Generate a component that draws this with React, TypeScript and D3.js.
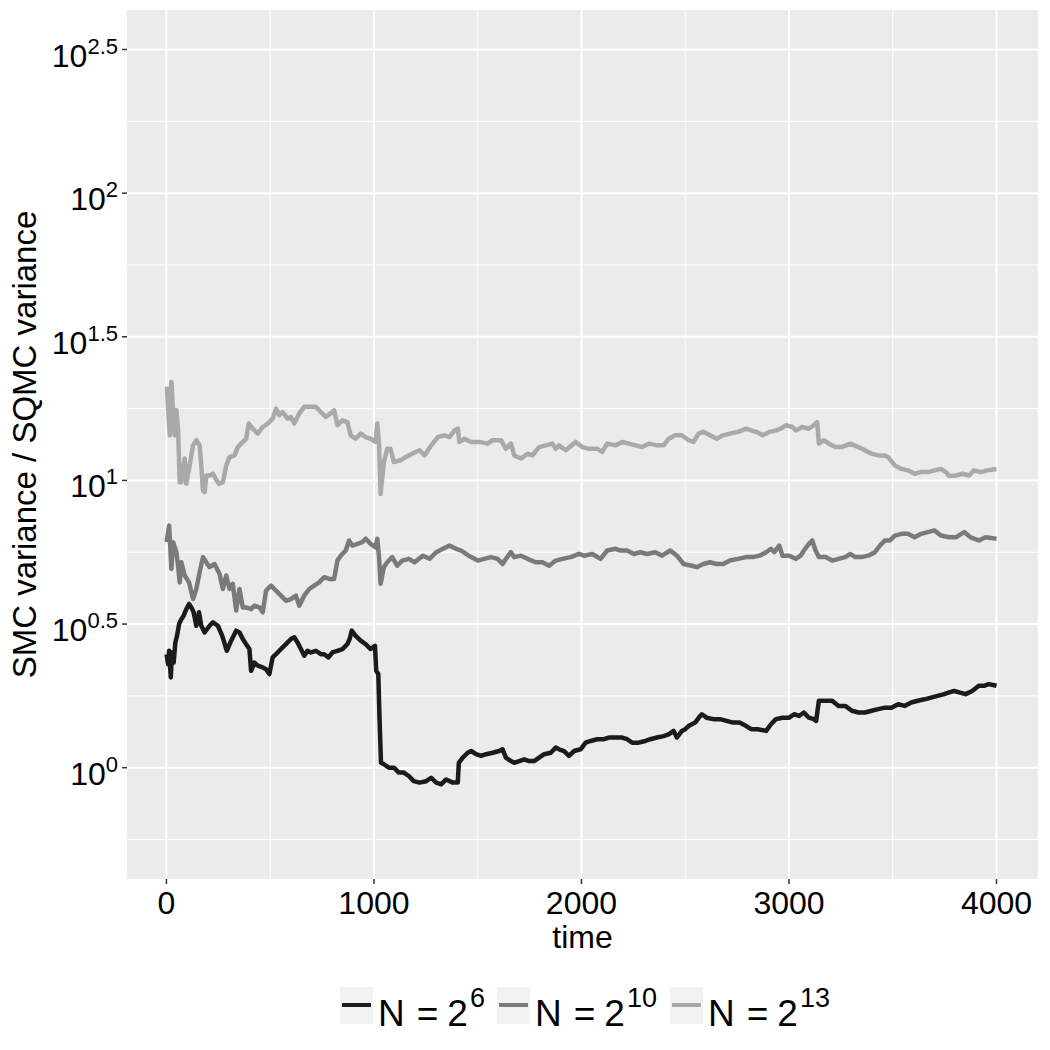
import React from 'react';
import * as d3 from 'd3';

// time steps and log10(SMC var / SQMC var)
const timeN6 = [1, 8, 13, 21, 27, 35, 43, 51, 61, 72, 83, 96, 109, 120, 131, 144, 157, 168, 184, 208, 224, 248, 269, 291, 312, 336, 352, 368, 384, 400, 408, 424, 440, 464, 480, 496, 512, 528, 544, 560, 576, 600, 616, 632, 648, 664, 680, 696, 720, 744, 760, 781, 800, 824, 848, 872, 883, 893, 912, 936, 960, 984, 1005, 1011, 1021, 1027, 1034, 1048, 1072, 1096, 1120, 1144, 1168, 1192, 1220, 1252, 1276, 1300, 1324, 1348, 1380, 1404, 1409, 1428, 1452, 1468, 1492, 1516, 1540, 1572, 1604, 1620, 1636, 1660, 1676, 1700, 1724, 1748, 1772, 1796, 1820, 1852, 1876, 1892, 1916, 1940, 1964, 1996, 2020, 2044, 2076, 2108, 2132, 2164, 2196, 2220, 2244, 2276, 2308, 2332, 2364, 2396, 2420, 2444, 2460, 2484, 2500, 2516, 2548, 2572, 2580, 2603, 2635, 2667, 2699, 2731, 2762, 2794, 2818, 2850, 2890, 2913, 2937, 2969, 3001, 3025, 3049, 3072, 3096, 3120, 3131, 3144, 3176, 3208, 3239, 3271, 3303, 3335, 3366, 3398, 3430, 3462, 3494, 3526, 3557, 3589, 3621, 3653, 3685, 3716, 3748, 3772, 3796, 3820, 3851, 3883, 3915, 3939, 3963, 4000];
const log10RatioN6 = [0.395, 0.36, 0.407, 0.314, 0.401, 0.366, 0.436, 0.459, 0.5, 0.517, 0.529, 0.552, 0.57, 0.558, 0.541, 0.494, 0.541, 0.494, 0.471, 0.494, 0.506, 0.494, 0.459, 0.407, 0.442, 0.477, 0.471, 0.448, 0.43, 0.413, 0.337, 0.366, 0.355, 0.349, 0.343, 0.326, 0.384, 0.395, 0.407, 0.419, 0.43, 0.448, 0.454, 0.436, 0.413, 0.39, 0.407, 0.401, 0.407, 0.395, 0.395, 0.384, 0.401, 0.407, 0.413, 0.43, 0.448, 0.477, 0.459, 0.442, 0.43, 0.413, 0.424, 0.337, 0.326, 0.169, 0.017, 0.012, 0.0, 0.0, -0.017, -0.017, -0.029, -0.047, -0.052, -0.047, -0.035, -0.052, -0.058, -0.041, -0.052, -0.052, 0.017, 0.035, 0.052, 0.058, 0.047, 0.041, 0.047, 0.052, 0.058, 0.064, 0.035, 0.023, 0.017, 0.023, 0.029, 0.023, 0.023, 0.035, 0.047, 0.052, 0.07, 0.064, 0.058, 0.041, 0.058, 0.064, 0.087, 0.093, 0.099, 0.099, 0.105, 0.105, 0.105, 0.099, 0.087, 0.087, 0.093, 0.099, 0.105, 0.11, 0.116, 0.128, 0.105, 0.128, 0.134, 0.145, 0.157, 0.18, 0.186, 0.174, 0.169, 0.169, 0.163, 0.157, 0.157, 0.145, 0.134, 0.134, 0.128, 0.151, 0.169, 0.174, 0.174, 0.186, 0.18, 0.192, 0.174, 0.169, 0.163, 0.233, 0.233, 0.233, 0.215, 0.215, 0.198, 0.192, 0.192, 0.198, 0.204, 0.209, 0.209, 0.221, 0.215, 0.227, 0.233, 0.238, 0.244, 0.25, 0.256, 0.262, 0.267, 0.262, 0.256, 0.267, 0.285, 0.285, 0.291, 0.285];

const timeN10 = [1, 13, 19, 24, 32, 48, 56, 64, 72, 88, 109, 128, 144, 160, 176, 192, 208, 232, 256, 272, 288, 304, 320, 336, 352, 368, 384, 408, 424, 448, 464, 480, 504, 528, 552, 576, 600, 624, 640, 664, 688, 712, 736, 760, 784, 808, 824, 840, 864, 880, 896, 920, 944, 960, 984, 1008, 1016, 1024, 1032, 1048, 1064, 1088, 1112, 1136, 1168, 1196, 1236, 1268, 1300, 1332, 1364, 1396, 1420, 1444, 1468, 1500, 1532, 1564, 1596, 1620, 1636, 1660, 1676, 1708, 1740, 1780, 1812, 1844, 1876, 1908, 1948, 1988, 2012, 2052, 2092, 2124, 2164, 2188, 2220, 2252, 2284, 2316, 2356, 2388, 2428, 2460, 2492, 2532, 2556, 2587, 2619, 2651, 2683, 2715, 2754, 2794, 2826, 2858, 2890, 2913, 2929, 2953, 2969, 3001, 3033, 3056, 3072, 3096, 3112, 3128, 3144, 3176, 3208, 3239, 3271, 3295, 3319, 3351, 3382, 3414, 3438, 3462, 3486, 3510, 3542, 3573, 3605, 3637, 3669, 3701, 3732, 3772, 3804, 3844, 3875, 3915, 3947, 4000];
const log10RatioN10 = [0.785, 0.843, 0.762, 0.692, 0.785, 0.75, 0.703, 0.645, 0.715, 0.669, 0.645, 0.587, 0.622, 0.68, 0.733, 0.715, 0.698, 0.709, 0.674, 0.622, 0.669, 0.622, 0.64, 0.547, 0.622, 0.558, 0.558, 0.552, 0.564, 0.558, 0.541, 0.616, 0.634, 0.616, 0.599, 0.581, 0.587, 0.599, 0.564, 0.599, 0.622, 0.634, 0.645, 0.663, 0.657, 0.657, 0.721, 0.738, 0.756, 0.791, 0.773, 0.779, 0.785, 0.797, 0.779, 0.767, 0.797, 0.738, 0.64, 0.698, 0.715, 0.733, 0.703, 0.721, 0.727, 0.715, 0.738, 0.727, 0.75, 0.762, 0.773, 0.762, 0.756, 0.744, 0.733, 0.721, 0.727, 0.733, 0.727, 0.709, 0.727, 0.75, 0.733, 0.738, 0.727, 0.715, 0.715, 0.703, 0.721, 0.727, 0.733, 0.744, 0.738, 0.744, 0.727, 0.756, 0.762, 0.756, 0.756, 0.744, 0.75, 0.744, 0.75, 0.738, 0.756, 0.738, 0.709, 0.703, 0.698, 0.709, 0.715, 0.709, 0.709, 0.721, 0.727, 0.733, 0.733, 0.738, 0.75, 0.762, 0.75, 0.773, 0.738, 0.738, 0.727, 0.738, 0.756, 0.779, 0.791, 0.756, 0.733, 0.733, 0.721, 0.727, 0.733, 0.744, 0.733, 0.733, 0.738, 0.75, 0.773, 0.791, 0.791, 0.808, 0.814, 0.814, 0.802, 0.814, 0.82, 0.826, 0.808, 0.802, 0.802, 0.82, 0.802, 0.791, 0.802, 0.797];

const timeN13 = [3, 8, 16, 24, 32, 40, 48, 56, 64, 72, 80, 88, 96, 109, 128, 144, 160, 168, 176, 184, 192, 208, 224, 237, 253, 272, 288, 304, 328, 344, 368, 384, 397, 416, 440, 464, 488, 512, 528, 544, 560, 584, 600, 616, 640, 664, 688, 720, 744, 768, 792, 808, 824, 848, 872, 888, 912, 936, 960, 984, 1008, 1016, 1024, 1032, 1048, 1064, 1080, 1096, 1128, 1152, 1184, 1220, 1244, 1276, 1308, 1340, 1364, 1388, 1404, 1412, 1436, 1468, 1508, 1548, 1572, 1612, 1636, 1660, 1676, 1708, 1740, 1764, 1796, 1828, 1860, 1876, 1892, 1924, 1972, 2004, 2036, 2076, 2100, 2124, 2164, 2196, 2228, 2260, 2292, 2324, 2364, 2396, 2420, 2452, 2484, 2516, 2540, 2564, 2587, 2619, 2651, 2683, 2715, 2754, 2794, 2818, 2842, 2874, 2905, 2937, 2961, 2985, 3017, 3033, 3064, 3096, 3120, 3136, 3144, 3168, 3192, 3224, 3255, 3295, 3335, 3366, 3398, 3430, 3462, 3478, 3510, 3542, 3573, 3605, 3637, 3669, 3701, 3732, 3756, 3772, 3804, 3836, 3868, 3891, 3923, 3955, 4000];
const log10RatioN13 = [1.326, 1.25, 1.157, 1.343, 1.238, 1.157, 1.244, 1.18, 0.994, 0.994, 1.04, 1.076, 0.988, 1.04, 1.122, 1.14, 1.122, 1.052, 0.965, 0.959, 1.017, 1.017, 1.023, 1.006, 0.988, 0.994, 1.052, 1.081, 1.087, 1.116, 1.134, 1.145, 1.198, 1.18, 1.163, 1.186, 1.198, 1.215, 1.25, 1.227, 1.238, 1.215, 1.221, 1.198, 1.233, 1.256, 1.256, 1.256, 1.238, 1.221, 1.233, 1.244, 1.192, 1.209, 1.203, 1.157, 1.145, 1.163, 1.151, 1.145, 1.134, 1.198, 1.134, 0.953, 1.064, 1.11, 1.11, 1.064, 1.07, 1.081, 1.093, 1.105, 1.087, 1.122, 1.151, 1.157, 1.151, 1.174, 1.18, 1.134, 1.145, 1.134, 1.134, 1.128, 1.14, 1.14, 1.11, 1.128, 1.087, 1.076, 1.093, 1.087, 1.116, 1.122, 1.128, 1.11, 1.122, 1.105, 1.134, 1.116, 1.11, 1.11, 1.099, 1.128, 1.122, 1.134, 1.128, 1.122, 1.116, 1.128, 1.122, 1.122, 1.145, 1.157, 1.157, 1.14, 1.134, 1.163, 1.169, 1.157, 1.145, 1.157, 1.163, 1.169, 1.18, 1.174, 1.169, 1.157, 1.169, 1.174, 1.18, 1.192, 1.186, 1.174, 1.186, 1.18, 1.192, 1.203, 1.128, 1.14, 1.128, 1.116, 1.116, 1.128, 1.116, 1.105, 1.093, 1.087, 1.087, 1.081, 1.052, 1.04, 1.035, 1.023, 1.029, 1.029, 1.035, 1.04, 1.029, 1.015, 1.017, 1.023, 1.017, 1.035, 1.029, 1.035, 1.04];

const seriesNames = ['N6', 'N10', 'N13'];
const seriesExponents = ['6', '10', '13'];
const seriesColors = ['#1b1b1b', '#7a7a7a', '#a9a9a9'];

const xTicks = [0, 1000, 2000, 3000, 4000];
const xMinorTicks = [500, 1500, 2500, 3500];
const yTickExponents = ['0', '0.5', '1', '1.5', '2', '2.5'];
const yMinorExponents = [-0.25, 0.25, 0.75, 1.25, 1.75, 2.25];

const width = 1050;
const height = 1050;
const margin = { top: 10, right: 12, bottom: 171, left: 127 };
const font = "'Liberation Sans', Arial, Helvetica, sans-serif";

const App = () => {
  const x = d3
    .scaleLinear()
    .domain([-190, 4200])
    .range([margin.left, width - margin.right]);

  const y = d3
    .scaleLog()
    .domain([10 ** -0.3875, 10 ** 2.6375])
    .range([height - margin.bottom, margin.top]);

  const toPoints = (times, logs) => times.map((t, i) => ({ t, r: 10 ** logs[i] }));
  const series = [
    toPoints(timeN6, log10RatioN6),
    toPoints(timeN10, log10RatioN10),
    toPoints(timeN13, log10RatioN13),
  ];

  const line = d3
    .line<{ t: number; r: number }>()
    .x((d) => x(d.t))
    .y((d) => y(d.r));

  const x0 = margin.left;
  const x1 = width - margin.right;
  const y0 = margin.top;
  const y1 = height - margin.bottom;

  // legend layout
  const legendKeys = [340, 497, 670];

  return (
    <svg
      width={width}
      height={height}
      style={{ position: 'absolute', left: 0, top: 0, background: '#fff' }}
      fontFamily={font}
    >
      {/* panel */}
      <rect x={x0} y={y0} width={x1 - x0} height={y1 - y0} fill="#EBEBEB" />

      {/* minor grid */}
      <g stroke="#fff" strokeWidth={1}>
        {yMinorExponents.map((e) => (
          <line key={'ym' + e} x1={x0} x2={x1} y1={y(10 ** e)} y2={y(10 ** e)} />
        ))}
        {xMinorTicks.map((t) => (
          <line key={'xm' + t} x1={x(t)} x2={x(t)} y1={y0} y2={y1} />
        ))}
      </g>
      {/* major grid */}
      <g stroke="#fff" strokeWidth={2}>
        {yTickExponents.map((e) => (
          <line key={'y' + e} x1={x0} x2={x1} y1={y(10 ** +e)} y2={y(10 ** +e)} />
        ))}
        {xTicks.map((t) => (
          <line key={'x' + t} x1={x(t)} x2={x(t)} y1={y0} y2={y1} />
        ))}
      </g>

      {/* series */}
      <g fill="none" strokeWidth={4.5} strokeLinejoin="round">
        {series.map((pts, i) => (
          <path key={seriesNames[i]} d={line(pts) ?? ''} stroke={seriesColors[i]} />
        ))}
      </g>

      {/* y axis */}
      <g>
        {yTickExponents.map((e) => {
          const yy = y(10 ** +e);
          return (
            <g key={'yt' + e}>
              <line x1={x0 - 5} x2={x0} y1={yy} y2={yy} stroke="#333" strokeWidth={1.5} />
              <text x={x0 - 9} y={yy + 17} textAnchor="end" fontSize={32} fill="#000">
                10
                <tspan fontSize={22} dy={-13}>
                  {e}
                </tspan>
              </text>
            </g>
          );
        })}
      </g>

      {/* x axis */}
      <g>
        {xTicks.map((t) => (
          <g key={'xt' + t}>
            <line x1={x(t)} x2={x(t)} y1={y1} y2={y1 + 5} stroke="#333" strokeWidth={1.5} />
            <text x={x(t)} y={y1 + 35} textAnchor="middle" fontSize={32} fill="#000">
              {t}
            </text>
          </g>
        ))}
      </g>

      {/* axis titles */}
      <text x={(x0 + x1) / 2} y={948} textAnchor="middle" fontSize={32} fill="#000">
        time
      </text>
      <text
        transform={`translate(36,${(y0 + y1) / 2}) rotate(-90)`}
        textAnchor="middle"
        fontSize={33}
        fill="#000"
      >
        SMC variance / SQMC variance
      </text>

      {/* legend */}
      <g>
        {seriesNames.map((name, i) => {
          const kx = legendKeys[i];
          return (
            <g key={'lg' + name}>
              <rect x={kx} y={987} width={33} height={37} fill="#F2F2F2" />
              <line x1={kx + 2} x2={kx + 31} y1={1005} y2={1005} stroke={seriesColors[i]} strokeWidth={4} />
              <text x={kx + 38} y={1026} fontSize={37} fill="#000">
                N
                <tspan dx={12}>=</tspan>
                <tspan dx={9}>2</tspan>
                <tspan fontSize={27} dy={-19} dx={2}>
                  {seriesExponents[i]}
                </tspan>
              </text>
            </g>
          );
        })}
      </g>
    </svg>
  );
};

export default App;
